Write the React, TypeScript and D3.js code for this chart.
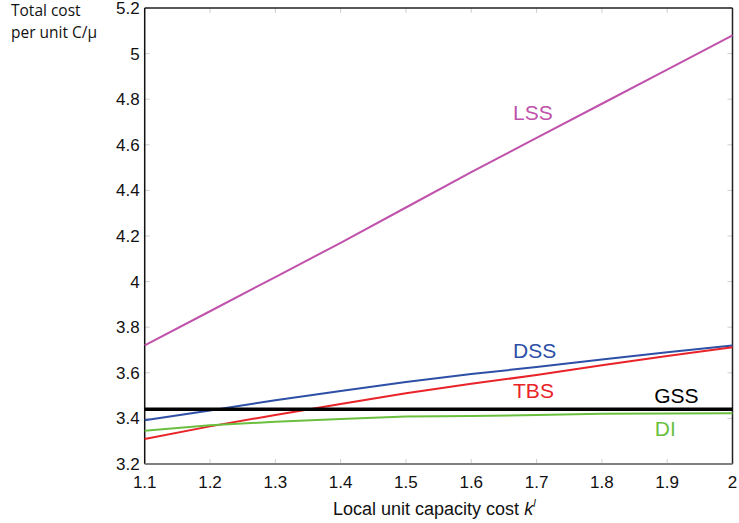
import React from "react";
import * as d3 from "d3";

// Local unit capacity cost values
const kValues = [1.1, 1.2, 1.3, 1.4, 1.5, 1.6, 1.7, 1.8, 1.9, 2.0];

// Total cost per unit for each strategy
const lss = [3.72, 3.87, 4.02, 4.17, 4.325, 4.48, 4.63, 4.78, 4.93, 5.08];
const dss = [3.392, 3.435, 3.48, 3.52, 3.56, 3.595, 3.625, 3.658, 3.69, 3.72];
const tbs = [3.31, 3.365, 3.415, 3.463, 3.51, 3.552, 3.59, 3.633, 3.674, 3.712];
const gss = [3.44, 3.44, 3.44, 3.44, 3.44, 3.44, 3.44, 3.44, 3.44, 3.44];
const di = [3.346, 3.37, 3.385, 3.397, 3.408, 3.41, 3.415, 3.42, 3.421, 3.423];

const xTicks = [1.1, 1.2, 1.3, 1.4, 1.5, 1.6, 1.7, 1.8, 1.9, 2];
const yTicks = [3.2, 3.4, 3.6, 3.8, 4, 4.2, 4.4, 4.6, 4.8, 5, 5.2];

const series = [
  { name: "LSS", values: lss, color: "#c052ab", width: 2, label: [1.664, 4.71] },
  { name: "DSS", values: dss, color: "#2e4fa6", width: 2, label: [1.664, 3.664] },
  { name: "TBS", values: tbs, color: "#e82329", width: 2, label: [1.664, 3.488] },
  { name: "DI", values: di, color: "#6abf3f", width: 2, label: [1.881, 3.324] },
  { name: "GSS", values: gss, color: "#000000", width: 3.5, label: [1.88, 3.466] },
];

const W = 739;
const H = 523;
const left = 144.7;
const right = 732.5;
const top = 8;
const bottom = 464;

export default function App() {
  const x = d3.scaleLinear().domain([1.1, 2]).range([left, right]);
  const y = d3.scaleLinear().domain([3.2, 5.2]).range([bottom, top]);
  const line = d3
    .line<number>()
    .x((_, i) => x(kValues[i]))
    .y((d) => y(d));

  const fmt = (v: number) => (Number.isInteger(v) ? String(v) : v.toFixed(1));
  const tickLen = 5;
  const font = "Liberation Sans, Arial, sans-serif";

  return (
    <svg
      width={W}
      height={H}
      style={{ position: "absolute", left: 0, top: 0, background: "#fff" }}
    >
      {/* inward tick marks on all four sides */}
      {xTicks.map((t) => (
        <g key={"xt" + t} stroke="#cfcfcf" strokeWidth={1}>
          <line x1={x(t)} x2={x(t)} y1={bottom} y2={bottom - tickLen} />
          <line x1={x(t)} x2={x(t)} y1={top} y2={top + tickLen} />
        </g>
      ))}
      {yTicks.map((t) => (
        <g key={"yt" + t} stroke="#cfcfcf" strokeWidth={1}>
          <line x1={left} x2={left + tickLen} y1={y(t)} y2={y(t)} />
          <line x1={right} x2={right - tickLen} y1={y(t)} y2={y(t)} />
        </g>
      ))}

      {/* frame */}
      <line x1={left} x2={right} y1={top} y2={top} stroke="#222" strokeWidth={1.5} />
      <line x1={right} x2={right} y1={top} y2={bottom} stroke="#222" strokeWidth={1.5} />
      <line x1={left} x2={left} y1={top} y2={bottom} stroke="#111" strokeWidth={1.5} />
      <line x1={left} x2={right} y1={bottom} y2={bottom} stroke="#808080" strokeWidth={2} />

      {/* tick labels */}
      {xTicks.map((t) => (
        <text
          key={"xl" + t}
          x={x(t)}
          y={bottom + 24}
          textAnchor="middle"
          fontFamily={font}
          fontSize={17}
          fill="#111"
        >
          {fmt(t)}
        </text>
      ))}
      {yTicks.map((t) => (
        <text
          key={"yl" + t}
          x={left - 5}
          y={y(t) + 6}
          textAnchor="end"
          fontFamily={font}
          fontSize={17}
          fill="#111"
        >
          {fmt(t)}
        </text>
      ))}

      {/* series lines */}
      {series.map((s) => (
        <path
          key={s.name}
          d={line(s.values) || ""}
          fill="none"
          stroke={s.color}
          strokeWidth={s.width}
          strokeLinejoin="round"
        />
      ))}

      {/* series labels */}
      {series.map((s) => (
        <text
          key={"lab" + s.name}
          x={x(s.label[0])}
          y={y(s.label[1])}
          fontFamily={font}
          fontSize={21}
          fill={s.color}
        >
          {s.name}
        </text>
      ))}

      {/* axis titles */}
      <text x={11} y={16} fontFamily="Open Sans, sans-serif" fontSize={15.5} fill="#111">
        Total cost
      </text>
      <text x={11} y={38} fontFamily="Open Sans, sans-serif" fontSize={15.5} fill="#111">
        per unit C/μ
      </text>
      <text x={333} y={515} fontFamily={font} fontSize={18} fill="#111">
        Local unit capacity cost{" "}
        <tspan fontStyle="italic">k</tspan>
        <tspan fontStyle="italic" fontSize={11} dy={-8}>
          l
        </tspan>
      </text>
    </svg>
  );
}
